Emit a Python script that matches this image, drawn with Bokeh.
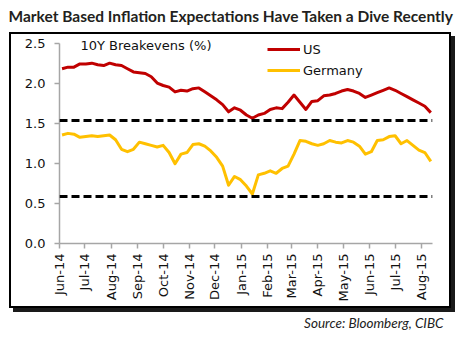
import pandas as pd
from bokeh.plotting import figure
from bokeh.models import (Range1d, Span, Label, Legend, LegendItem, Title,
                          FixedTicker, DatetimeTickFormatter, NumeralTickFormatter,
                          InlineStyleSheet)
from bokeh.embed import file_html
from bokeh.resources import INLINE

# ---------------- data ----------------
title_text = "Market Based Inflation Expectations Have Taken a Dive Recently"
chart_label = "10Y Breakevens (%)"
source_text = "Source: Bloomberg, CIBC"
series_names = ["US", "Germany"]

start_date = "2014-06-04"   # weekly observations
us_values = [
    2.19, 2.21, 2.21, 2.25, 2.25, 2.26, 2.24, 2.23, 2.26, 2.24,
    2.23, 2.19, 2.15, 2.14, 2.13, 2.09, 2.01, 1.98, 1.96, 1.90,
    1.92, 1.91, 1.94, 1.95, 1.90, 1.85, 1.80, 1.74, 1.65, 1.70,
    1.67, 1.61, 1.57, 1.61, 1.63, 1.68, 1.70, 1.69, 1.77, 1.86,
    1.77, 1.68, 1.78, 1.79, 1.85, 1.86, 1.88, 1.91, 1.93, 1.91,
    1.88, 1.83, 1.86, 1.89, 1.92, 1.95, 1.92, 1.88, 1.84, 1.80,
    1.76, 1.72, 1.64,
]
germany_values = [
    1.36, 1.38, 1.37, 1.33, 1.34, 1.35, 1.34, 1.35, 1.36, 1.30,
    1.18, 1.15, 1.18, 1.27, 1.25, 1.23, 1.21, 1.23, 1.14, 1.00,
    1.12, 1.14, 1.24, 1.25, 1.22, 1.16, 1.08, 0.97, 0.73, 0.84,
    0.80, 0.72, 0.62, 0.86, 0.88, 0.91, 0.88, 0.94, 0.97, 1.12,
    1.29, 1.28, 1.25, 1.23, 1.25, 1.29, 1.27, 1.26, 1.29, 1.27,
    1.22, 1.12, 1.15, 1.29, 1.30, 1.34, 1.35, 1.25, 1.29, 1.23,
    1.17, 1.14, 1.03,
]
tick_months = ["2014-06-01", "2014-07-01", "2014-08-01", "2014-09-01", "2014-10-01",
               "2014-11-01", "2014-12-01", "2015-01-01", "2015-02-01", "2015-03-01",
               "2015-04-01", "2015-05-01", "2015-06-01", "2015-07-01", "2015-08-01"]
y_ticks = [0.0, 0.5, 1.0, 1.5, 2.0, 2.5]
upper_level = 1.54
lower_level = 0.59

dates = pd.date_range(start_date, periods=len(us_values), freq="7D")

# ---------------- styling ----------------
US_COLOR = "#C00000"
DE_COLOR = "#FFC000"
AXIS_GRAY = "#A6A6A6"
TEXT = "#111111"
FONT = "DejaVu Sans"
W, H = 462, 344
Y_VIEW_MAX = 2.669   # headroom above the 2.5 axis end for the in-plot caption

p = figure(width=W, height=H, x_axis_type="datetime",
           x_range=Range1d(pd.Timestamp("2014-06-01"), pd.Timestamp("2015-08-14")),
           y_range=Range1d(0, Y_VIEW_MAX),
           output_backend="svg", toolbar_location=None,
           min_border_left=59, min_border_right=30, min_border_top=30, min_border_bottom=101)
p.background_fill_color = "white"
p.border_fill_color = "white"
p.outline_line_color = None
p.xgrid.visible = False
p.ygrid.visible = False

r_us = p.line(dates, us_values, line_color=US_COLOR, line_width=3, line_join="round")
r_de = p.line(dates, germany_values, line_color=DE_COLOR, line_width=3, line_join="round")

for lvl in (upper_level, lower_level):
    p.add_layout(Span(location=lvl, dimension="width", line_color="black",
                      line_width=3, line_dash="8 4"))

tick_ms = [pd.Timestamp(t).timestamp() * 1000 for t in tick_months]
p.xaxis.ticker = FixedTicker(ticks=tick_ms)
fmt = "%b-%y"
p.xaxis.formatter = DatetimeTickFormatter(
    microseconds=fmt, milliseconds=fmt, seconds=fmt, minsec=fmt, minutes=fmt,
    hourmin=fmt, hours=fmt, days=fmt, months=fmt, years=fmt)
p.xaxis.major_label_orientation = 3.14159265 / 2
p.yaxis.ticker = FixedTicker(ticks=y_ticks)
p.yaxis.formatter = NumeralTickFormatter(format="0.0")
p.yaxis.bounds = (y_ticks[0], y_ticks[-1])

for ax in (p.xaxis[0], p.yaxis[0]):
    ax.axis_line_color = AXIS_GRAY
    ax.axis_line_width = 1.5
    ax.major_tick_line_color = AXIS_GRAY
    ax.major_tick_line_width = 1.5
    ax.major_tick_out = 5
    ax.major_tick_in = 0
    ax.minor_tick_line_color = None
    ax.major_label_text_font = FONT
    ax.major_label_text_font_size = "13px"
    ax.major_label_text_color = TEXT
p.yaxis.major_label_standoff = 9
p.xaxis.major_label_standoff = 5

legend = Legend(items=[LegendItem(label=series_names[0], renderers=[r_us]),
                       LegendItem(label=series_names[1], renderers=[r_de])],
                location=(208, 165), orientation="vertical",
                glyph_width=33, glyph_height=16, label_height=16,
                label_standoff=3, spacing=5, padding=0, margin=0,
                border_line_alpha=0, background_fill_alpha=0,
                label_text_font=FONT, label_text_font_size="13px",
                label_text_color=TEXT)
p.add_layout(legend)

p.add_layout(Label(x=21, y=198, x_units="screen", y_units="screen", text=chart_label,
                   text_font=FONT, text_font_size="13px", text_color=TEXT,
                   text_baseline="middle"))

# title above the chart
p.title.text = title_text
p.title.text_font = "Lato"
p.title.text_font_style = "bold"
p.title.text_font_size = "15.5px"
p.title.text_color = "#231F20"
p.title.align = "left"
p.title.offset = -51
p.title.vertical_align = "top"
p.title.standoff = 8

# source line below the axis
p.add_layout(Title(text=source_text, align="right", offset=-11, standoff=16,
                   text_font="Lato", text_font_style="italic", text_font_size="13.5px",
                   text_color="#222222"), "below")

# chart border with drop shadow (page styling)
p.stylesheets = [InlineStyleSheet(css=(
    ":host{position:relative;}"
    ":host::after{content:'';position:absolute;left:9px;top:32px;width:438px;"
    "height:272px;border:2px solid #000;box-shadow:4px 4px 0 #1a1a1a;"
    "pointer-events:none;}"))]

open("out.html", "w").write(file_html(p, INLINE))
